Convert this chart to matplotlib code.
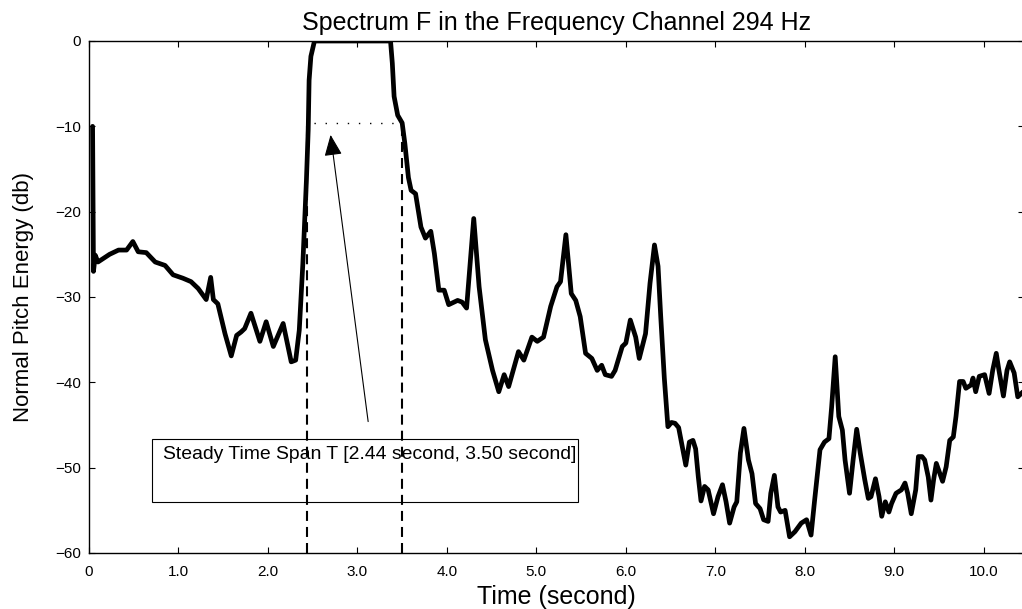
import matplotlib
matplotlib.use("Agg")
import matplotlib.pyplot as plt
from matplotlib.patches import Rectangle

plt.rcParams['font.family'] = ['Liberation Sans', 'DejaVu Sans']

# pitch energy in the 294 Hz channel (time in seconds, energy in db)
time_s = [0.04, 0.05, 0.07, 0.10, 0.23, 0.33, 0.42, 0.49, 0.55, 0.64, 0.74, 0.85,
          0.94, 1.05, 1.14, 1.22, 1.31, 1.36, 1.39, 1.44, 1.52, 1.59, 1.65, 1.70,
          1.74, 1.81, 1.91, 1.98, 2.06, 2.17, 2.26, 2.31, 2.35, 2.39, 2.43, 2.45,
          2.46, 2.48, 2.52, 3.37, 3.39, 3.41, 3.45, 3.50, 3.53, 3.57, 3.60, 3.65,
          3.71, 3.76, 3.82, 3.86, 3.91, 3.97, 4.02, 4.12, 4.17, 4.22, 4.30, 4.36,
          4.43, 4.51, 4.58, 4.64, 4.69, 4.80, 4.86, 4.95, 5.01, 5.08, 5.16, 5.23,
          5.27, 5.33, 5.39, 5.44, 5.49, 5.55, 5.62, 5.68, 5.73, 5.77, 5.84, 5.88,
          5.96, 6.00, 6.05, 6.11, 6.15, 6.22, 6.27, 6.32, 6.36, 6.39, 6.43, 6.47,
          6.51, 6.55, 6.59, 6.63, 6.67, 6.71, 6.75, 6.78, 6.81, 6.84, 6.88, 6.92,
          6.98, 7.03, 7.08, 7.12, 7.16, 7.21, 7.24, 7.28, 7.32, 7.37, 7.41, 7.45,
          7.50, 7.54, 7.59, 7.62, 7.66, 7.70, 7.73, 7.78, 7.83, 7.89, 7.96, 8.02,
          8.07, 8.11, 8.17, 8.22, 8.27, 8.30, 8.34, 8.38, 8.42, 8.45, 8.50, 8.54,
          8.58, 8.62, 8.67, 8.71, 8.74, 8.79, 8.83, 8.86, 8.90, 8.94, 8.97, 9.02,
          9.08, 9.12, 9.15, 9.19, 9.24, 9.27, 9.31, 9.34, 9.38, 9.41, 9.44, 9.47,
          9.51, 9.54, 9.58, 9.62, 9.66, 9.69, 9.73, 9.77, 9.80, 9.86, 9.88, 9.91,
          9.95, 10.01, 10.06, 10.10, 10.14, 10.17, 10.22, 10.26, 10.29, 10.34,
          10.38, 10.45]
energy_db = [-10.0, -27.0, -25.1, -25.9, -25.0, -24.5, -24.5, -23.5, -24.7, -24.8,
             -25.9, -26.3, -27.4, -27.8, -28.2, -29.0, -30.3, -27.7, -30.3, -30.8,
             -34.3, -36.9, -34.5, -34.1, -33.7, -31.9, -35.2, -32.9, -35.8, -33.1,
             -37.6, -37.4, -33.9, -26.1, -16.3, -10.4, -4.6, -1.8, 0.0, 0.0,
             -2.6, -6.5, -8.7, -9.6, -12.0, -16.0, -17.5, -17.9, -21.8, -23.1,
             -22.3, -24.9, -29.2, -29.2, -30.9, -30.4, -30.6, -31.3, -20.8, -28.8,
             -35.0, -38.6, -41.1, -39.1, -40.5, -36.4, -37.4, -34.7, -35.2, -34.7,
             -31.1, -28.8, -28.2, -22.7, -29.6, -30.4, -32.3, -36.6, -37.2, -38.6,
             -38.0, -39.1, -39.3, -38.6, -35.8, -35.4, -32.7, -34.7, -37.2, -34.3,
             -28.4, -23.9, -26.4, -32.3, -39.5, -45.2, -44.7, -44.8, -45.3, -47.5,
             -49.7, -47.0, -46.8, -47.8, -51.1, -53.9, -52.2, -52.6, -55.4, -53.4,
             -52.0, -54.0, -56.5, -54.6, -54.0, -48.3, -45.4, -49.1, -50.7, -54.2,
             -54.8, -56.1, -56.3, -53.0, -50.9, -54.6, -55.2, -55.0, -58.1, -57.5,
             -56.5, -56.1, -57.9, -53.8, -47.9, -47.0, -46.6, -42.9, -37.0, -44.0,
             -45.6, -49.1, -53.0, -49.1, -45.5, -48.3, -51.4, -53.6, -53.4, -51.3,
             -53.4, -55.7, -54.0, -55.2, -54.2, -53.0, -52.6, -51.8, -53.0, -55.4,
             -52.6, -48.7, -48.7, -49.1, -51.1, -53.8, -51.4, -49.5, -50.7, -51.6,
             -49.9, -46.8, -46.4, -44.0, -39.9, -39.9, -40.7, -40.3, -39.5, -41.1,
             -39.3, -39.1, -41.3, -38.6, -36.6, -38.6, -41.6, -38.6, -37.6, -38.9,
             -41.7, -41.0]

# steady span marked on the plot
span_start = 2.44
span_end = 3.50
span_level = -9.6
span_text = 'Steady Time Span T [2.44 second, 3.50 second]'

x_ticks = [0, 1, 2, 3, 4, 5, 6, 7, 8, 9, 10]
x_tick_labels = ['0', '1.0', '2.0', '3.0', '4.0', '5.0', '6.0', '7.0', '8.0', '9.0', '10.0']
y_ticks = [0, -10, -20, -30, -40, -50, -60]
y_tick_labels = ['0', '\u221210', '\u221220', '\u221230', '\u221240', '\u221250', '\u221260']

fig = plt.figure(figsize=(10.22, 6.09), dpi=100)
ax = fig.add_axes([89 / 1022, 1 - 553 / 609, (1024 - 89) / 1022, (553 - 41) / 609])

ax.plot(time_s, energy_db, color='black', lw=3.4, solid_joinstyle='round',
        solid_capstyle='round', zorder=3)

# span markers
for x in (span_start, span_end):
    ax.plot([x, x], [-60, span_level], color='black', lw=1.5, ls=(0, (4.8, 2.9)))
ax.plot([span_start, span_end], [span_level, span_level], color='black', lw=1.0,
        ls=(3, (1, 7)))

# annotation box with arrow
ax.add_patch(Rectangle((0.705, -54.0), 5.47 - 0.705, 7.4, fill=False,
                       edgecolor='black', lw=0.8, zorder=4))
ax.text(0.83, -47.5, span_text, fontsize=13.95, va='top', ha='left', zorder=5)
ax.annotate('', xy=(2.70, -11.0), xytext=(3.12, -44.6),
            arrowprops=dict(arrowstyle='-|>,head_length=1.3,head_width=0.55',
                            color='black', lw=0.8, shrinkA=0, shrinkB=0))

ax.set_xlim(0, 10.45)
ax.set_ylim(-60, 0)
ax.set_xticks(x_ticks)
ax.set_xticklabels(x_tick_labels)
ax.set_yticks(y_ticks)
ax.set_yticklabels(y_tick_labels)
ax.tick_params(direction='in', top=True, right=True, length=4, width=0.8,
               labelsize=11, pad=6)
ax.tick_params(axis='x', pad=9)
for s in ax.spines.values():
    s.set_linewidth(1.0)

ax.set_title('Spectrum F in the Frequency Channel 294 Hz', fontsize=18, pad=8)
ax.set_xlabel('Time (second)', fontsize=18, labelpad=4)
ax.set_ylabel('Normal Pitch Energy (db)', fontsize=16, labelpad=15)

fig.savefig('out.png', dpi=100)
